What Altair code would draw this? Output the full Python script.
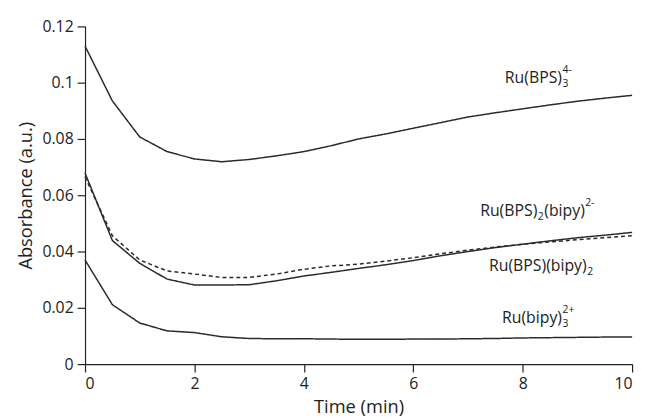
import altair as alt
import pandas as pd

time = [0, 0.5, 1, 1.5, 2, 2.5, 3, 3.5, 4, 4.5, 5, 5.5, 6, 6.5, 7, 7.5, 8, 8.5, 9, 9.5, 10]

bps3 = [0.113, 0.0935, 0.0807, 0.0755, 0.0729, 0.0719, 0.0727, 0.0740, 0.0755, 0.0776, 0.0800,
        0.0818, 0.0838, 0.0858, 0.0878, 0.0893, 0.0907, 0.0921, 0.0934, 0.0945, 0.0955]
bps2_bipy = [0.0665, 0.0456, 0.0370, 0.0331, 0.0320, 0.0308, 0.0308, 0.0320, 0.0337, 0.0349, 0.0355,
             0.0366, 0.0378, 0.0392, 0.0405, 0.0416, 0.0426, 0.0434, 0.0442, 0.0449, 0.0456]
bps_bipy2 = [0.0679, 0.0439, 0.0358, 0.0302, 0.0281, 0.0281, 0.0282, 0.0296, 0.0313, 0.0326, 0.0340,
             0.0353, 0.0368, 0.0385, 0.0400, 0.0414, 0.0426, 0.0438, 0.0449, 0.0458, 0.0468]
bipy3 = [0.0370, 0.0211, 0.0146, 0.0118, 0.0112, 0.0097, 0.0091, 0.0090, 0.0090, 0.0089, 0.0088,
         0.0088, 0.0089, 0.0089, 0.0090, 0.0091, 0.0093, 0.0094, 0.0095, 0.0096, 0.0096]

series_names = ["Ru(BPS)3", "Ru(BPS)2(bipy)", "Ru(BPS)(bipy)2", "Ru(bipy)3"]
series_values = [bps3, bps2_bipy, bps_bipy2, bipy3]
series_dashed = [False, True, False, False]

# label pieces: text, kind (main = normal size, sub = subscript, sup = superscript),
# anchor (right / left aligned at the given x), x and baseline y in data units
seg_text = ["Ru(BPS)", "3", "4-",
            "Ru(BPS)", "2", "(bipy)", "2-",
            "Ru(BPS)(bipy)", "2",
            "Ru(bipy)", "3", "2+"]
seg_kind = ["main", "sub", "sup",
            "main", "sub", "main", "sup",
            "main", "sub",
            "main", "sub", "sup"]
seg_anchor = ["right", "left", "left",
              "right", "left", "left", "left",
              "right", "left",
              "right", "left", "left"]
seg_x = [8.718, 8.727, 8.727,
         8.267, 8.276, 8.394, 9.142,
         9.17, 9.18,
         8.718, 8.727, 8.727]
seg_y = [0.1000, 0.1000, 0.1000,
         0.0526, 0.0526, 0.0526, 0.0526,
         0.0330, 0.0330,
         0.0147, 0.0147, 0.0147]

y_ticks = [0, 0.02, 0.04, 0.06, 0.08, 0.1, 0.12]
x_ticks = [0, 2, 4, 6, 8, 10]

FONT = "Open Sans"
INK = "#222222"

rows = []
for name, vals, dashed in zip(series_names, series_values, series_dashed):
    for t, v in zip(time, vals):
        rows.append({"time": t, "abs": v, "series": name, "dashed": "dash" if dashed else "solid"})
df = pd.DataFrame(rows)

segs = pd.DataFrame({"text": seg_text, "kind": seg_kind, "anchor": seg_anchor,
                     "x": seg_x, "y": seg_y})

xscale = alt.Scale(domain=[0, 10], nice=False, zero=False)
yscale = alt.Scale(domain=[0, 0.12], nice=False)

lines = alt.Chart(df).mark_line(strokeWidth=1.5, color="#2a2a2a").encode(
    x=alt.X("time:Q", scale=xscale, title="Time (min)",
            axis=alt.Axis(values=x_ticks, format="d", grid=False)),
    y=alt.Y("abs:Q", scale=yscale, title="Absorbance (a.u.)",
            axis=alt.Axis(values=y_ticks, format="~g", grid=False)),
    detail="series:N",
    strokeDash=alt.StrokeDash("dashed:N", scale=alt.Scale(domain=["solid", "dash"],
                                                          range=[[1, 0], [4, 3]]), legend=None),
)

base = alt.Chart(segs).encode(
    x=alt.X("x:Q", scale=xscale),
    y=alt.Y("y:Q", scale=yscale),
    text="text:N",
)

main_r = base.transform_filter("datum.kind == 'main' && datum.anchor == 'right'").mark_text(
    font=FONT, fontSize=16, color=INK, align="right", baseline="alphabetic")
main_l = base.transform_filter("datum.kind == 'main' && datum.anchor == 'left'").mark_text(
    font=FONT, fontSize=16, color=INK, align="left", baseline="alphabetic")
sub = base.transform_filter("datum.kind == 'sub'").mark_text(
    font=FONT, fontSize=10.5, color=INK, align="left", baseline="alphabetic", dy=4)
sup = base.transform_filter("datum.kind == 'sup'").mark_text(
    font=FONT, fontSize=10.5, color=INK, align="left", baseline="alphabetic", dy=-10)

chart = (lines + main_r + main_l + sub + sup).properties(
    width=554, height=342,
    autosize=alt.AutoSizeParams(type="none"),
    padding={"left": 78, "top": 16, "right": 9, "bottom": 54},
).configure_view(stroke=None).configure_axis(
    domainColor=INK, tickColor=INK, labelColor=INK, titleColor=INK,
    labelFont=FONT, titleFont=FONT, labelFontSize=16, titleFontSize=18.5,
    titleFontWeight="normal", tickSize=8, labelPadding=4, domainWidth=1.2, tickWidth=1.2,
).configure_axisY(titlePadding=7).configure_axisX(titlePadding=6)

chart.save("out.html", embed_options={"renderer": "svg", "actions": False})
